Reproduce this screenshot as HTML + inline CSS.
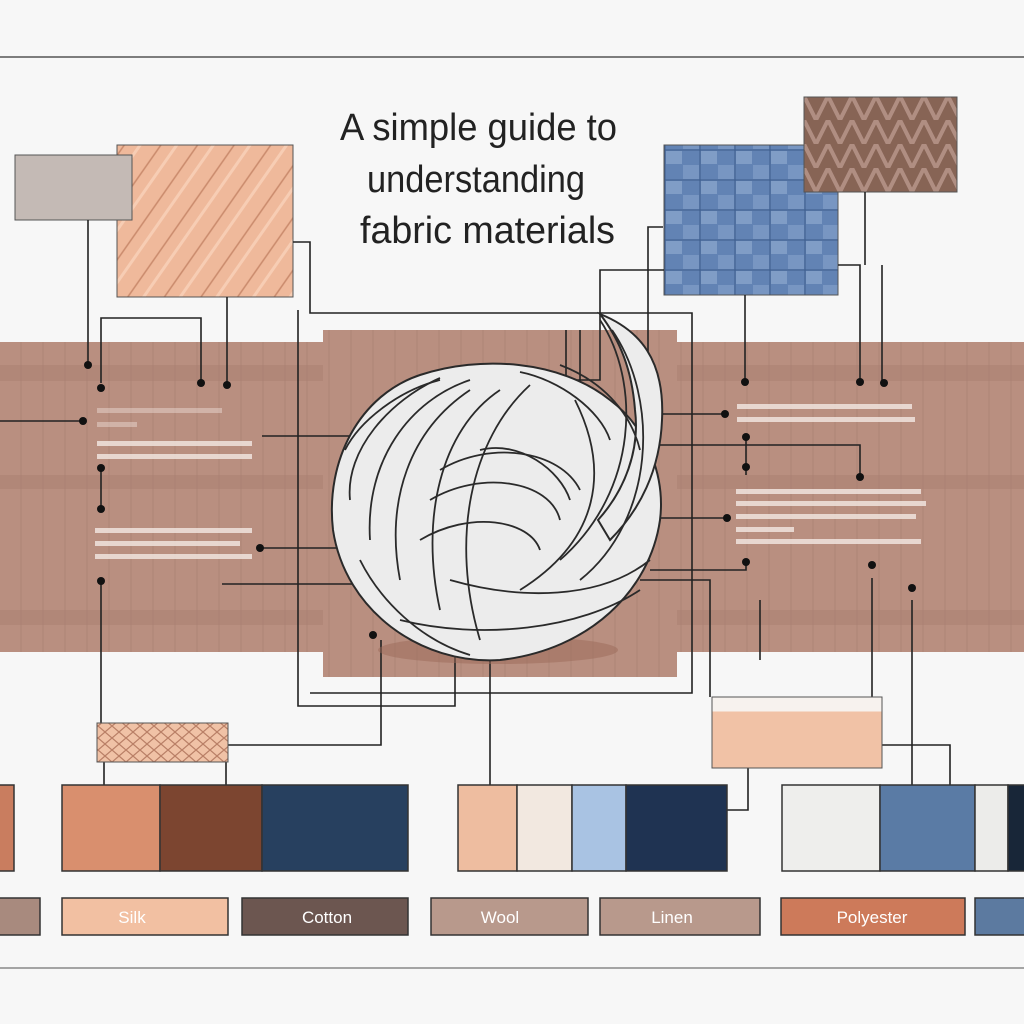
<!DOCTYPE html>
<html><head><meta charset="utf-8"><style>
html,body{margin:0;padding:0;background:#f7f7f7;}
svg{display:block}
</style></head><body>
<svg width="1024" height="1024" viewBox="0 0 1024 1024" xmlns="http://www.w3.org/2000/svg">
<defs>
<pattern id="grid" width="22" height="40" patternUnits="userSpaceOnUse">
<rect width="22" height="40" fill="#b98f80"/><line x1="21" y1="0" x2="21" y2="40" stroke="#ad8576" stroke-width="1"/>
</pattern>
<pattern id="wood" width="30" height="30" patternUnits="userSpaceOnUse" patternTransform="rotate(-55)">
<rect width="30" height="30" fill="#efb99b"/><line x1="0" y1="5" x2="30" y2="5" stroke="#c98a6c" stroke-width="1.5"/><line x1="0" y1="18" x2="30" y2="18" stroke="#f7cdb4" stroke-width="3"/>
</pattern>
<pattern id="weave" width="35" height="30" patternUnits="userSpaceOnUse">
<rect width="35" height="30" fill="#6283b4"/><rect x="1" y="1" width="16" height="13" fill="#809dc6"/><rect x="18" y="15" width="16" height="14" fill="#7896c2"/><path d="M0 0H35V30H0Z" fill="none" stroke="#3d5c8c"/>
</pattern>
<pattern id="herr" width="24" height="24" patternUnits="userSpaceOnUse">
<rect width="24" height="24" fill="#876455"/><path d="M0 24L12 0L24 24" stroke="#b08e82" stroke-width="4" fill="none"/>
</pattern>
<pattern id="diam" width="14" height="12" patternUnits="userSpaceOnUse">
<rect width="14" height="12" fill="#f0c2a6"/><path d="M0 6L7 0L14 6L7 12Z" fill="none" stroke="#b97f66" stroke-width="1.2"/>
</pattern>
</defs>
<rect width="1024" height="1024" fill="#f7f7f7"/>
<line x1="0" y1="57" x2="1024" y2="57" stroke="#555" stroke-width="1.5"/>
<line x1="0" y1="968" x2="1024" y2="968" stroke="#888" stroke-width="1.5"/>

<!-- band -->
<rect x="0" y="342" width="1024" height="310" fill="url(#grid)"/>
<rect x="0" y="365" width="1024" height="16" fill="#a97f6f" opacity=".5"/>
<rect x="0" y="475" width="1024" height="14" fill="#a97f6f" opacity=".5"/>
<rect x="0" y="610" width="1024" height="15" fill="#a97f6f" opacity=".5"/>
<rect x="323" y="330" width="354" height="347" fill="url(#grid)"/>

<!-- title -->
<g font-family="Liberation Sans, sans-serif" font-size="38" fill="#222">
<text x="340" y="140" textLength="277" lengthAdjust="spacingAndGlyphs">A simple guide to</text>
<text x="367" y="192" textLength="218" lengthAdjust="spacingAndGlyphs">understanding</text>
<text x="360" y="243" textLength="255" lengthAdjust="spacingAndGlyphs">fabric materials</text>
</g>

<!-- top swatches -->
<rect x="117" y="145" width="176" height="152" fill="url(#wood)" stroke="#555"/>
<rect x="15" y="155" width="117" height="65" fill="#c4bab5" stroke="#555"/>
<rect x="664" y="145" width="174" height="150" fill="url(#weave)" stroke="#555"/>
<rect x="804" y="97" width="153" height="95" fill="url(#herr)" stroke="#555"/>

<!-- connectors -->
<g stroke="#222" stroke-width="1.6" fill="none">
<path d="M88 220V365"/><path d="M101 383V318H201V383"/><path d="M227 297V385"/>
<path d="M293 242H310V313H692V693H310"/>
<path d="M0 421H83"/><path d="M262 436H350"/><path d="M101 468V510"/><path d="M101 580V723"/>
<path d="M260 548H340"/><path d="M222 584H440"/><path d="M298 310V706H455V650"/><path d="M228 745H381V640"/><path d="M490 660V785"/>
<path d="M663 227H648V370"/><path d="M566 330V380H600V270H664"/><path d="M580 330V395"/>
<path d="M745 295V382"/><path d="M838 265H860V382"/><path d="M882 265V383"/><path d="M865 192V265"/>
<path d="M660 414H725"/><path d="M660 445H860V475"/><path d="M746 440V475"/><path d="M650 518H727"/>
<path d="M650 570H746V560"/><path d="M640 580H710V697"/><path d="M760 600V660"/>
<path d="M872 578V697"/><path d="M912 600V785"/><path d="M882 745H950V785"/><path d="M748 768V810H727"/>
<path d="M104 762V785"/><path d="M226 762V785"/>
</g>
<g fill="#111">
<circle cx="88" cy="365" r="4"/><circle cx="101" cy="388" r="4"/><circle cx="201" cy="383" r="4"/><circle cx="227" cy="385" r="4"/>
<circle cx="83" cy="421" r="4"/><circle cx="101" cy="468" r="4"/><circle cx="101" cy="509" r="4"/><circle cx="101" cy="581" r="4"/>
<circle cx="260" cy="548" r="4"/><circle cx="745" cy="382" r="4"/><circle cx="860" cy="382" r="4"/><circle cx="884" cy="383" r="4"/>
<circle cx="725" cy="414" r="4"/><circle cx="746" cy="437" r="4"/><circle cx="746" cy="467" r="4"/><circle cx="860" cy="477" r="4"/>
<circle cx="727" cy="518" r="4"/><circle cx="746" cy="562" r="4"/><circle cx="872" cy="565" r="4"/><circle cx="912" cy="588" r="4"/>
<circle cx="580" cy="398" r="4"/><circle cx="566" cy="382" r="4"/><circle cx="373" cy="635" r="4"/>
</g>

<!-- fake text -->
<g fill="#f1e4de" opacity=".85">
<rect x="97" y="408" width="125" height="5" opacity=".5"/><rect x="97" y="422" width="40" height="5" opacity=".5"/>
<rect x="97" y="441" width="155" height="5"/><rect x="97" y="454" width="155" height="5"/>
<rect x="95" y="528" width="157" height="5"/><rect x="95" y="541" width="145" height="5"/><rect x="95" y="554" width="157" height="5"/>
<rect x="737" y="404" width="175" height="5"/><rect x="737" y="417" width="178" height="5"/>
<rect x="736" y="489" width="185" height="5"/><rect x="736" y="501" width="190" height="5"/><rect x="736" y="514" width="180" height="5"/><rect x="736" y="527" width="58" height="5"/><rect x="736" y="539" width="185" height="5"/>
</g>

<!-- knot -->
<ellipse cx="498" cy="650" rx="120" ry="14" fill="#9c6a58" opacity=".5"/>
<g stroke="#2a2a2a" stroke-width="2" fill="#ececec">
<path d="M420 375C480 355 560 360 610 400C650 430 665 480 660 520C650 590 590 650 500 660C420 665 345 610 333 530C325 460 360 395 420 375Z"/>
<path d="M600 314C640 330 665 360 662 420C660 470 640 510 610 540L598 520C625 490 640 450 635 410C632 370 620 340 600 314Z"/>
</g>
<g stroke="#2a2a2a" stroke-width="1.8" fill="none">
<path d="M440 378C390 400 345 450 350 500"/><path d="M470 380C410 400 365 460 370 540"/>
<path d="M470 390C410 430 385 500 400 580"/><path d="M500 390C440 430 420 520 440 610"/>
<path d="M530 385C470 440 450 540 480 640"/>
<path d="M440 470C490 440 560 450 580 490"/><path d="M430 500C480 470 550 480 560 520"/>
<path d="M420 540C470 510 530 520 540 550"/><path d="M520 372C560 380 600 410 610 440"/>
<path d="M575 400C610 470 600 540 520 590"/><path d="M600 320C640 380 640 490 560 560"/>
<path d="M612 330C660 400 655 520 580 580"/><path d="M450 580C520 600 600 600 650 560"/>
<path d="M400 620C480 640 580 630 640 590"/><path d="M360 560C380 600 420 640 470 655"/>
<path d="M345 450C360 420 400 390 440 380"/><path d="M560 365C600 380 630 410 640 450"/>
<path d="M480 450C520 440 560 470 570 500"/>
</g>

<!-- lower swatches -->
<rect x="97" y="723" width="131" height="39" fill="url(#diam)" stroke="#555"/>
<rect x="712" y="697" width="170" height="71" fill="#f1c2a6" stroke="#555"/>
<rect x="712.5" y="697.5" width="169" height="14" fill="#f7f2ee"/>

<!-- swatch row -->
<g stroke="#333" stroke-width="1.5">
<rect x="-2" y="785" width="16" height="86" fill="#c97d5f"/>
<rect x="62" y="785" width="98" height="86" fill="#d98f6e"/>
<rect x="160" y="785" width="102" height="86" fill="#7c4530"/>
<rect x="262" y="785" width="146" height="86" fill="#27405f"/>
<rect x="458" y="785" width="59" height="86" fill="#eebda0"/>
<rect x="517" y="785" width="55" height="86" fill="#f2e8e0"/>
<rect x="572" y="785" width="54" height="86" fill="#a9c3e3"/>
<rect x="626" y="785" width="101" height="86" fill="#1f3352"/>
<rect x="782" y="785" width="98" height="86" fill="#eeeeec"/>
<rect x="880" y="785" width="95" height="86" fill="#5a7ba5"/>
<rect x="975" y="785" width="33" height="86" fill="#ececea"/>
<rect x="1008" y="785" width="20" height="86" fill="#182638"/>
</g>

<!-- labels -->
<g stroke="#333" stroke-width="1.5">
<rect x="-2" y="898" width="42" height="37" fill="#a88a7e"/>
<rect x="62" y="898" width="166" height="37" fill="#f2c0a2"/>
<rect x="242" y="898" width="166" height="37" fill="#6c5650"/>
<rect x="431" y="898" width="157" height="37" fill="#b8998c"/>
<rect x="600" y="898" width="160" height="37" fill="#b8998c"/>
<rect x="781" y="898" width="184" height="37" fill="#cd7a5a"/>
<rect x="975" y="898" width="52" height="37" fill="#5c7aa0"/>
</g>
<g font-family="Liberation Sans, sans-serif" font-size="17" fill="#fff" text-anchor="middle">
<text x="132" y="923">Silk</text><text x="327" y="923">Cotton</text><text x="500" y="923">Wool</text>
<text x="672" y="923">Linen</text><text x="872" y="923">Polyester</text>
</g>
</svg>
</body></html>
